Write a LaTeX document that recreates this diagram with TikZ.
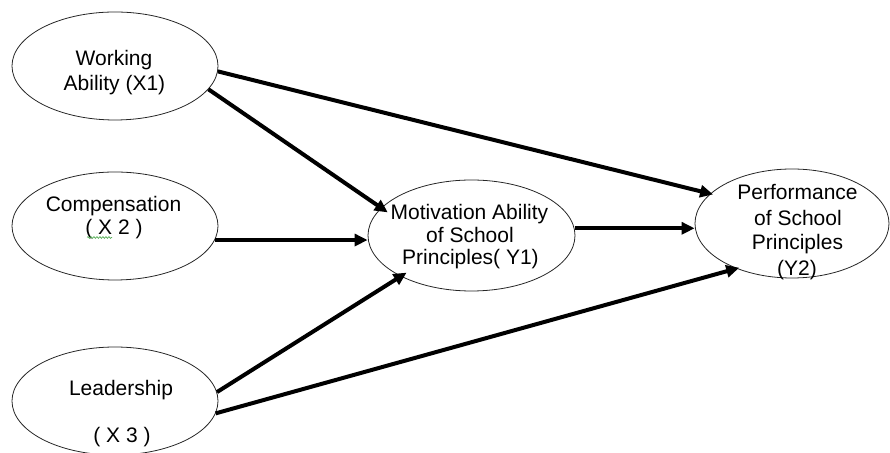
\documentclass[tikz,border=0pt]{standalone}
\usepackage{fontspec}
\setmainfont{Liberation Sans}
\usetikzlibrary{shapes.geometric,arrows.meta,decorations.pathmorphing,calc}
\definecolor{squiggle}{RGB}{90,175,90}
\begin{document}
\begin{tikzpicture}[x=1bp,y=1bp,
  ell/.style={draw=black!85, line width=0.8bp, ellipse, inner sep=0, minimum width=206bp, minimum height=108bp},
  lbl/.style={inner sep=0, anchor=base, font=\fontsize{21bp}{25bp}\selectfont},
  conn/.style={line width=4bp, -{Triangle[length=13bp,width=12bp]}}]
\useasboundingbox (0,0) rectangle (890,453);
% ellipses
\node[ell] (x1) at (115,387) {};
\node[ell] (x2) at (115,227) {};
\node[ell] (x3) at (115,52) {};
\node[ell, minimum width=207bp, minimum height=111bp] (y1) at (471.5,217.5) {};
\node[ell, minimum width=194bp, minimum height=109bp] (y2) at (792,229.5) {};
% texts
\node[lbl] (x1a) at (114,387) {Working};
\node[lbl] (x1b) at (114.5,362) {Ability (X1)};
\node[lbl] (x2a) at (113.5,241) {Compensation};
\node[lbl] (x2b) at (114,218) {( X 2 )};
\node[lbl] (x3a) at (121,57) {Leadership};
\node[lbl] (x3b) at (122,10) {( X 3 )};
\node[lbl] (y1a) at (469.5,233) {Motivation Ability};
\node[lbl] (y1b) at (470,210) {of School};
\node[lbl] (y1c) at (470.5,188) {Principles( Y1)};
\node[lbl] (y2a) at (797.5,253) {Performance};
\node[lbl] (y2b) at (798,227) {of School};
\node[lbl] (y2c) at (797.5,203) {Principles};
\node[lbl] (y2d) at (797,177) {(Y2)};
% spell-check squiggle
\draw[squiggle, line width=0.7bp, decorate, decoration={snake, segment length=3bp, amplitude=0.9bp}] (87,215.5) -- (112,215.5);
% connectors
\draw[conn] (x1.-3) -- ($(y2.160)!-3bp!(x1.-3)$);
\draw[conn] (x1.-14) -- ($(y1.163)!-8bp!(x1.-14)$);
\draw[conn] (x2.-8) -- (x2.-8 -| y1.west);
\draw[conn] (y1.4) -- (y1.4 -| y2.west);
\draw[conn] (x3.5) -- ($(y1.210)!-7bp!(x3.5)$);
\draw[conn] (x3.-7) -- ($(y2.219)!-3bp!(x3.-7)$);
\end{tikzpicture}
\end{document}
